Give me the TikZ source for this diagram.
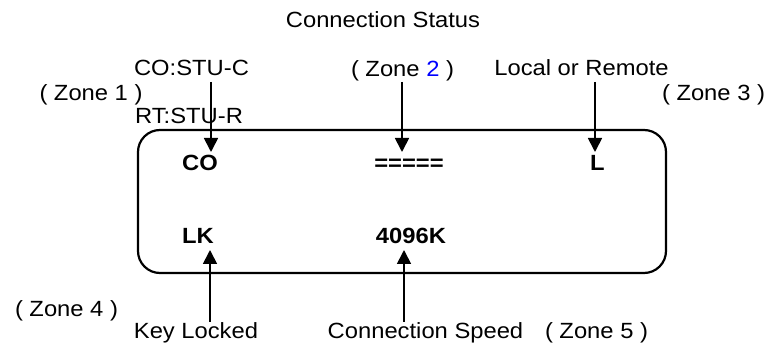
\documentclass[tikz,border=0pt]{standalone}
\usepackage{fontspec}
\setmainfont{Liberation Sans}[FakeStretch=1.08]
\usetikzlibrary{arrows.meta}
\tikzset{
  lbl/.style={inner sep=0pt, anchor=base, font=\fontsize{22}{25}\selectfont},
  val/.style={inner sep=0pt, anchor=base, font=\fontsize{22}{25}\selectfont\bfseries},
  ptr/.style={line width=1.7pt, -{Triangle[length=14pt,width=14pt]}},
  panel/.style={line width=2.2pt, rounded corners=22pt}
}
\begin{document}
\begin{tikzpicture}[x=1pt,y=-1pt]
\useasboundingbox (0,0) rectangle (769,347);
\draw[panel] (138,130) rectangle (666,273);
\node[lbl] (title) at (383,28) {Connection Status};
\node[lbl] (costu) at (191.5,76) {CO:STU-C};
\node[lbl] (z1) at (91,100.5) {( Zone 1 )};
\node[lbl] (rtstu) at (189,124) {RT:STU-R};
\node[lbl] (z2) at (402.5,77) {( Zone \textcolor{blue}{2} )};
\node[lbl] (lr) at (581.5,76) {Local or Remote};
\node[lbl] (z3) at (713.5,100.5) {( Zone 3 )};
\node[val] (co) at (200,171) {CO};
\node[val] (eq) at (409,171) {=====};
\node[val] (l) at (597.5,171) {L};
\node[val] (lk) at (198,244) {LK};
\node[val] (spd) at (411,244) {4096K};
\node[lbl] (z4) at (66.5,317) {( Zone 4 )};
\node[lbl] (kl) at (196,339) {Key Locked};
\node[lbl] (cs) at (425.5,339) {Connection Speed};
\node[lbl] (z5) at (596.5,339) {( Zone 5 )};
\coordinate (a1s) at (211,82);  \coordinate (a1e) at (211,152);
\coordinate (a2s) at (402,82);  \coordinate (a2e) at (402,152);
\coordinate (a3s) at (595,82);  \coordinate (a3e) at (595,152);
\coordinate (a4s) at (210,322); \coordinate (a4e) at (210,250);
\coordinate (a5s) at (404,322); \coordinate (a5e) at (404,250);
\draw[ptr] (a1s) -- (a1e);
\draw[ptr] (a2s) -- (a2e);
\draw[ptr] (a3s) -- (a3e);
\draw[ptr] (a4s) -- (a4e);
\draw[ptr] (a5s) -- (a5e);
\end{tikzpicture}
\end{document}
